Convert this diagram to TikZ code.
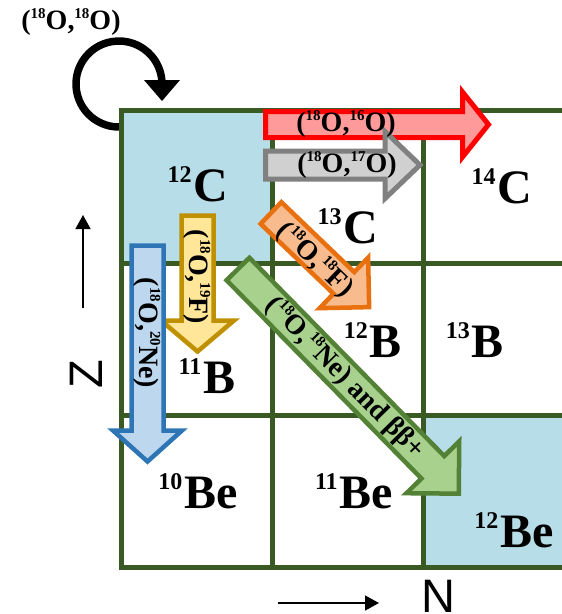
\documentclass[tikz,border=0pt]{standalone}
\usepackage{fontspec}
\setmainfont{Liberation Serif}
\newfontfamily\axisfont{Liberation Sans}
\usetikzlibrary{arrows.meta}

\definecolor{gridgreen}{HTML}{3A5A24}
\definecolor{cellblue}{HTML}{B7DDE8}
\definecolor{redfill}{HTML}{FF9A9A}
\definecolor{redline}{HTML}{FF0000}
\definecolor{grayfill}{HTML}{D0D0D0}
\definecolor{grayline}{HTML}{808080}
\definecolor{orangefill}{HTML}{F7BB8E}
\definecolor{orangeline}{HTML}{E8700F}
\definecolor{goldfill}{HTML}{FFE699}
\definecolor{goldline}{HTML}{BF9000}
\definecolor{bluefill}{HTML}{BDD7EE}
\definecolor{blueline}{HTML}{2E75B6}
\definecolor{greenfill}{HTML}{A9D18E}
\definecolor{greenline}{HTML}{538135}

% isotope label: mass number as superscript before the element symbol
\newcommand{\iso}[2]{\raisebox{19pt}{\fontsize{24}{24}\selectfont #1}\kern2pt\fontsize{48}{48}\selectfont #2}
% small raised mass number inside reaction labels
\newcommand{\up}[1]{\raisebox{0.38em}{\fontsize{15}{15}\selectfont #1}}

% block arrow: style, tail centre, angle, length, shaft half width, head half width, head length
\newcommand{\blockarrow}[7]{%
  \begin{scope}[shift={(#2)},rotate=#3]
    \draw[#1] (0,-#5) -- ({#4-#7},-#5) -- ({#4-#7},-#6) -- (#4,0)
      -- ({#4-#7},#6) -- ({#4-#7},#5) -- (0,#5) -- cycle;
  \end{scope}}

\begin{document}
\begin{tikzpicture}[x=1pt,y=-1pt,line join=miter,
  gridline/.style={gridgreen,line width=5pt,line cap=rect},
  isotope/.style={font=\bfseries,anchor=base,inner sep=0pt},
  reaction/.style={font=\bfseries\fontsize{28}{28}\selectfont,inner sep=0pt},
  axislabel/.style={font=\axisfont\fontsize{47}{47}\selectfont,inner sep=0pt,anchor=base},
  axisarrow/.style={line width=1.5pt,-{Triangle[length=14pt,width=15pt]}},
  redarrow/.style={draw=redline,fill=redfill,line width=5pt},
  grayarrow/.style={draw=grayline,fill=grayfill,line width=5pt},
  orangearrow/.style={draw=orangeline,fill=orangefill,line width=4.5pt},
  goldarrow/.style={draw=goldline,fill=goldfill,line width=4.5pt},
  bluearrow/.style={draw=blueline,fill=bluefill,line width=4.5pt},
  greenarrow/.style={draw=greenline,fill=greenfill,line width=4.5pt}]
\useasboundingbox (0,0) rectangle (562,614);
\clip (0,0) rectangle (562,614);

% elastic loop
\draw[line width=7.5pt] (119,84) ++(80:43) arc[start angle=80,end angle=360,radius=43];
\fill (144,80) -- (180,80) -- (162,101) -- cycle;

% chart cells
\fill[cellblue] (121,110) rectangle (272,263);
\fill[cellblue] (423,415) rectangle (570,567);
\foreach \yy in {110,263,415,567} \draw[gridline] (121,\yy) -- (570,\yy);
\foreach \xx in {121,272,423} \draw[gridline] (\xx,110) -- (\xx,567);

% transfer channels
\blockarrow{redarrow}{265.5,124.5}{0}{223}{13}{32.5}{26}
\blockarrow{grayarrow}{265.5,165}{0}{154.5}{14}{33.5}{35}
\blockarrow{orangearrow}{271,213}{-43.8}{136}{15}{35}{35}
\blockarrow{goldarrow}{197.5,215.5}{-90}{136}{16}{36.5}{31}
\blockarrow{bluearrow}{147.5,245.5}{-90}{216}{16}{34.5}{31}
\blockarrow{greenarrow}{238,269}{-45.5}{315}{16}{37}{37}

% nuclei
\node[isotope] (c12) at (198,201) {\iso{12}{C}};
\node[isotope] (c13) at (348,243) {\iso{13}{C}};
\node[isotope] (c14) at (502,203) {\iso{14}{C}};
\node[isotope] (b11) at (207,393) {\iso{11}{B}};
\node[isotope] (b12) at (373,357) {\iso{12}{B}};
\node[isotope] (b13) at (475,357) {\iso{13}{B}};
\node[isotope] (be10) at (198,508) {\iso{10}{Be}};
\node[isotope] (be11) at (354,508) {\iso{11}{Be}};
\node[isotope] (be12) at (514,547) {\iso{12}{Be}};

% reaction labels
\node[reaction] (loopLabel) at (71,22) {(\up{18}O,\up{18}O)};
\node[reaction] (rO16) at (346,124) {(\up{18}O,\up{16}O)};
\node[reaction] (rO17) at (347,165) {(\up{18}O,\up{17}O)};
\node[reaction,rotate=-90] (rF19) at (197,277) {(\up{18}O,\up{19}F)};
\node[reaction,rotate=-90] (rNe20) at (147,333) {(\up{18}O,\up{20}Ne)};
\node[reaction,rotate=-43.8] (rF18) at (315,260) {(\up{18}O,\up{18}F)};
\node[reaction,rotate=-45.5] (rNe18) at (345,378) {(\up{18}O,\up{18}Ne) and ββ+};

% axes
\coordinate (zFrom) at (83,308);
\coordinate (zTo) at (83,215);
\draw[axisarrow] (zFrom) -- (zTo);
\node[axislabel,rotate=90] (zLabel) at (102,374) {Z};
\coordinate (nFrom) at (278,603);
\coordinate (nTo) at (379,603);
\draw[axisarrow] (nFrom) -- (nTo);
\node[axislabel] (nLabel) at (438,612) {N};
\end{tikzpicture}
\end{document}
